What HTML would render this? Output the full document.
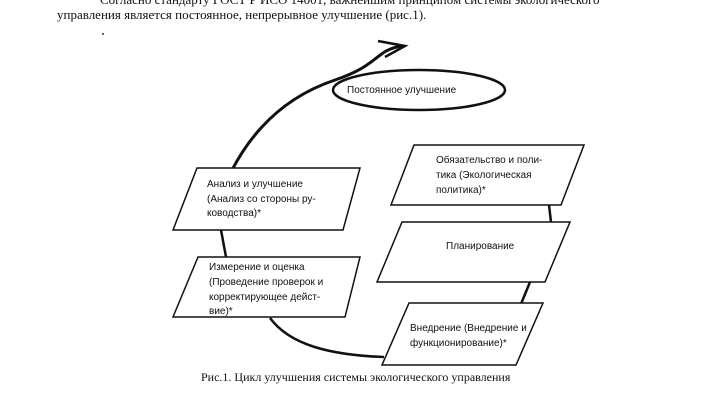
<!DOCTYPE html>
<html><head><meta charset="utf-8"><style>
html,body{margin:0;padding:0;background:#fff;}
svg{display:block}
.s{font-family:"Liberation Serif","DejaVu Serif",serif;fill:#111}
.b{font-family:"Liberation Sans","DejaVu Sans",sans-serif;fill:#111;font-size:10px}
</style></head><body>
<svg width="709" height="400" viewBox="0 0 709 400" xmlns="http://www.w3.org/2000/svg">
<text class="s" x="100" y="4" font-size="13">Согласно стандарту ГОСТ Р ИСО 14001, важнейшим принципом системы экологического</text>
<text class="s" x="57" y="19" font-size="13">управления является постоянное, непрерывное улучшение (рис.1).</text>
<circle cx="103" cy="34" r="1" fill="#333"/>

<g stroke="#111" fill="none">
<path d="M231,172 C255,125 290,95 335,80 S375,50 402,46" stroke-width="3"/>
<path d="M378,41 L405,46 L385,57" stroke-width="2.5"/>
<ellipse cx="419" cy="90" rx="86" ry="20" stroke-width="2.5"/>
<path d="M221,230 L226,257" stroke-width="2.5"/>
<path d="M549,205 L551,222" stroke-width="2.5"/>
<path d="M530,282 L521,304" stroke-width="2.5"/>
<path d="M270,318 C290,345 330,355 384,357" stroke-width="2.5"/>
</g>
<g stroke="#111" stroke-width="1.5" fill="#fff">
<polygon points="197,168 360,168 343,230 173,230"/>
<polygon points="198,257 360,257 345,317 173,317"/>
<polygon points="414,145 584,145 561,205 391,205"/>
<polygon points="402,222 570,222 545,282 377,282"/>
<polygon points="409,303 543,303 516,365 382,365"/>
</g>
<text class="b" x="347" y="93">Постоянное улучшение</text>
<text class="b" x="207" y="187">Анализ и улучшение</text>
<text class="b" x="207" y="202">(Анализ со стороны ру-</text>
<text class="b" x="207" y="216">ководства)*</text>
<text class="b" x="209" y="270">Измерение и оценка</text>
<text class="b" x="209" y="285">(Проведение проверок и</text>
<text class="b" x="209" y="300">корректирующее дейст-</text>
<text class="b" x="209" y="314">вие)*</text>
<text class="b" x="436" y="163">Обязательство и поли-</text>
<text class="b" x="436" y="178">тика (Экологическая</text>
<text class="b" x="436" y="193">политика)*</text>
<text class="b" x="446" y="249">Планирование</text>
<text class="b" x="410" y="331">Внедрение (Внедрение и</text>
<text class="b" x="410" y="346">функционирование)*</text>
<text class="s" x="201" y="381" font-size="12">Рис.1. Цикл улучшения системы экологического управления</text>
</svg>
</body></html>
